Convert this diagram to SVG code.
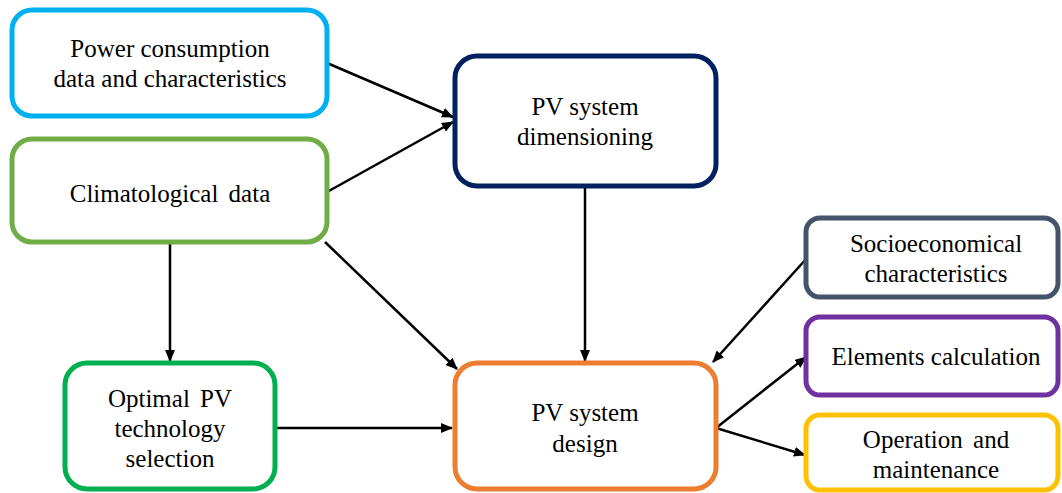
<svg xmlns="http://www.w3.org/2000/svg" width="1062" height="493" viewBox="0 0 1062 493">
<defs>
<marker id="ah" viewBox="0 0 12 10" refX="11" refY="5" markerWidth="12" markerHeight="10" markerUnits="userSpaceOnUse" orient="auto">
<path d="M0,0 L12,5 L0,10 Z" fill="#000"/>
</marker>
<style>
.box{fill:#fff;stroke-width:5}
.t{font-family:"Liberation Serif","Times New Roman",serif;font-size:25px;fill:#000;text-anchor:middle}
.c{stroke:#000;stroke-width:2.5;fill:none;marker-end:url(#ah)}
</style>
</defs>
<rect width="1062" height="493" fill="#fff"/>
<g id="connectors">
<line class="c" x1="327" y1="63" x2="453" y2="117"/>
<line class="c" x1="327" y1="192" x2="453" y2="122"/>
<line class="c" x1="170" y1="243" x2="170" y2="361"/>
<line class="c" x1="325" y1="242" x2="457" y2="369"/>
<line class="c" x1="277" y1="428" x2="452" y2="428"/>
<line class="c" x1="585" y1="188" x2="585" y2="361"/>
<line class="c" x1="807" y1="258" x2="713" y2="362"/>
<line class="c" x1="716" y1="428" x2="806" y2="357"/>
<line class="c" x1="716" y1="428" x2="805" y2="455"/>
</g>
<g id="power">
<rect class="box" x="12" y="10" width="315" height="106" rx="20" stroke="#00B0F0"/>
<text class="t" x="170" y="57">Power consumption</text>
<text class="t" x="170" y="87">data and characteristics</text>
</g>
<g id="climate">
<rect class="box" x="12" y="139" width="315" height="103" rx="20" stroke="#70AD47"/>
<text class="t" x="170" y="202" word-spacing="4">Climatological data</text>
</g>
<g id="dimensioning">
<rect class="box" x="455" y="56" width="261" height="130" rx="22" stroke="#002060"/>
<text class="t" x="585" y="115">PV system</text>
<text class="t" x="585" y="145">dimensioning</text>
</g>
<g id="optimal">
<rect class="box" x="65" y="363" width="210" height="126" rx="22" stroke="#00B050"/>
<text class="t" x="170" y="407" word-spacing="4">Optimal PV</text>
<text class="t" x="170" y="437">technology</text>
<text class="t" x="170" y="467">selection</text>
</g>
<g id="design">
<rect class="box" x="455" y="363" width="261" height="126" rx="22" stroke="#ED7D31"/>
<text class="t" x="585" y="421">PV system</text>
<text class="t" x="585" y="452">design</text>
</g>
<g id="socio">
<rect class="box" x="806" y="218" width="252" height="79" rx="14" stroke="#44546A"/>
<text class="t" x="936" y="252">Socioeconomical</text>
<text class="t" x="936" y="282">characteristics</text>
</g>
<g id="elements">
<rect class="box" x="806" y="317" width="252" height="78" rx="14" stroke="#7030A0"/>
<text class="t" x="936" y="365">Elements calculation</text>
</g>
<g id="operation">
<rect class="box" x="806" y="415" width="252" height="75" rx="14" stroke="#FFC000"/>
<text class="t" x="936" y="448" word-spacing="4">Operation and</text>
<text class="t" x="936" y="478">maintenance</text>
</g>
</svg>
